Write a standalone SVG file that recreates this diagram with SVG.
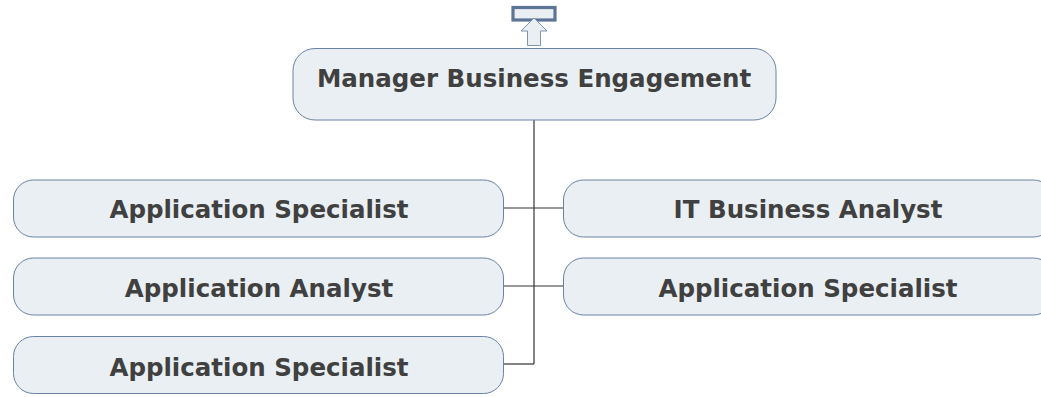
<svg xmlns="http://www.w3.org/2000/svg" width="1041" height="397" viewBox="0 0 1041 397">
<style>
.box{fill:#e9eff3;stroke:#6a82a3;stroke-width:1}
.lbl{font-family:"DejaVu Sans",Verdana,sans-serif;font-weight:bold;font-size:24.5px;fill:#404040;text-anchor:middle}
.con{stroke:#333;stroke-width:1.2;fill:none}
</style>
<rect width="1041" height="397" fill="#fff"/>
<g id="icon">
<rect x="513" y="7.5" width="42" height="12.5" fill="#e9eff3" stroke="#5c7596" stroke-width="3.2"/>
<path d="M534 18 L547 31 L540.5 31 L540.5 45.5 L527.5 45.5 L527.5 31 L521 31 Z" fill="#e9eff3" stroke="#7d93b0" stroke-width="1"/>
</g>
<g id="connectors">
<path class="con" d="M534 120 V364"/>
<path class="con" d="M504 208 H563"/>
<path class="con" d="M504 286 H563"/>
<path class="con" d="M504 364 H534"/>
</g>
<g id="root">
<rect class="box" x="293" y="48.5" width="483" height="71.5" rx="22"/>
<text class="lbl" x="534" y="87">Manager Business Engagement</text>
</g>
<g id="n1">
<rect class="box" x="13.5" y="180" width="490" height="57" rx="20"/>
<text class="lbl" x="259" y="218">Application Specialist</text>
</g>
<g id="n2">
<rect class="box" x="13.5" y="258" width="490" height="57" rx="20"/>
<text class="lbl" x="259" y="297">Application Analyst</text>
</g>
<g id="n3">
<rect class="box" x="13.5" y="336.5" width="490" height="57" rx="20"/>
<text class="lbl" x="259" y="376">Application Specialist</text>
</g>
<g id="n4">
<rect class="box" x="563.5" y="180" width="490" height="57" rx="20"/>
<text class="lbl" x="808" y="218">IT Business Analyst</text>
</g>
<g id="n5">
<rect class="box" x="563.5" y="258" width="490" height="57" rx="20"/>
<text class="lbl" x="808" y="297">Application Specialist</text>
</g>
</svg>
